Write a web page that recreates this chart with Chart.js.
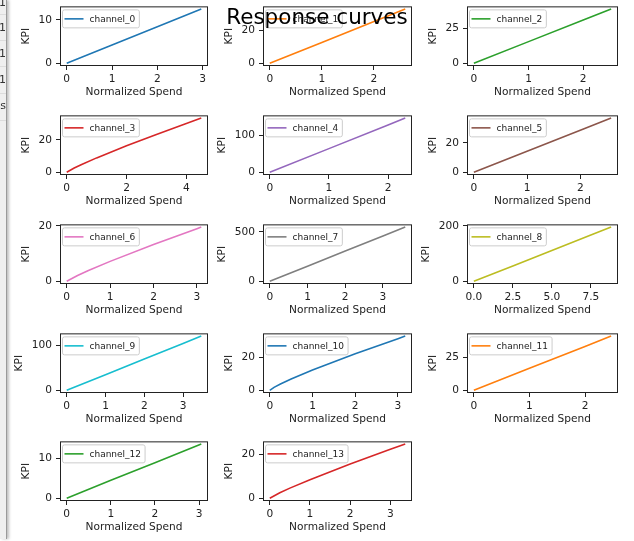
<!DOCTYPE html>
<html>
<head>
<meta charset="utf-8">
<script src="https://cdn.jsdelivr.net/npm/chart.js@4.4.0/dist/chart.umd.min.js"></script>
<style>
  body { margin: 0; background: #fff; width: 634px; height: 541px; overflow: hidden; position: relative; font-family: 'DejaVu Sans', sans-serif; }
  canvas { position: absolute; }
  #title { position: absolute; left: 0; width: 634px; top: 6px; text-align: center; font-size: 21.5px; line-height: 21.5px; color: #000; z-index: 5; }
  #side { position: absolute; left: 0; top: 0; width: 6px; height: 539px; background: #efefef; border-right: 1px solid #9a9a9a; box-shadow: 2px 0 3px rgba(0,0,0,0.25); overflow: hidden; z-index: 4; }
  #side span { position: absolute; right: 0; font-size: 11px; line-height: 13px; color: #333; white-space: nowrap; }
  #side i { position: absolute; left: 0; width: 6px; height: 0; border-top: 1px solid #dcdcdc; }
</style>
</head>
<body>
<div id="side">
  <span style="top:-4px">0.01</span><i style="top:14px"></i>
  <span style="top:21px">0.01</span><i style="top:40px"></i>
  <span style="top:47px">0.01</span><i style="top:66px"></i>
  <span style="top:73px">0.01</span><i style="top:93px"></i>
  <span style="top:99px">s</span><i style="top:120px"></i>
</div>
<div id="title">Response curves</div>
<script>
const channels = ['channel_0', 'channel_1', 'channel_2', 'channel_3', 'channel_4', 'channel_5', 'channel_6',
  'channel_7', 'channel_8', 'channel_9', 'channel_10', 'channel_11', 'channel_12', 'channel_13'];
const colors = ['#1f77b4', '#ff7f0e', '#2ca02c', '#d62728', '#9467bd', '#8c564b', '#e377c2',
  '#7f7f7f', '#bcbd22', '#17becf', '#1f77b4', '#ff7f0e', '#2ca02c', '#d62728'];

// spend (x) and KPI (y)
const spend = [
  [0, 1, 2, 2.97],
  [0, 1, 2, 2.6],
  [0, 1, 2, 2.51],
  [0, 0.25, 0.5, 1, 2, 3, 4, 4.5],
  [0, 1, 2, 2.29],
  [0, 1, 2, 2.58],
  [0, 0.25, 0.5, 1, 2, 3, 3.1],
  [0, 1, 2, 3, 3.59],
  [0, 2.5, 5, 7.5, 8.8],
  [0, 1, 2, 3, 3.47],
  [0, 0.1, 0.25, 0.5, 1, 2, 3, 3.17],
  [0, 1, 2, 2.47],
  [0, 1, 2, 3.05],
  [0, 0.25, 0.5, 1, 2, 3, 3.37]
];
const kpi = [
  [0, 4.2, 8.4, 12.5],
  [0, 12.6, 25.2, 32.7],
  [0, 15.5, 30.9, 38.8],
  [0, 2.6, 4.8, 8.9, 16.4, 23.4, 30.2, 33.5],
  [0, 64.6, 129.3, 148],
  [0, 14.3, 28.7, 37],
  [0, 2.1, 3.9, 7.2, 13.3, 19.0, 19.6],
  [0, 152.6, 305.3, 458, 548],
  [0, 55.7, 111.4, 167, 196],
  [0, 34.6, 69.2, 103.8, 120],
  [0, 1.8, 3.8, 6.9, 12.4, 22.4, 31.6, 33.2],
  [0, 16.7, 33.4, 41.3],
  [0, 4.5, 8.9, 13.6],
  [0, 2.5, 4.6, 8.4, 15.5, 22.2, 24.5]
];
const xTicks = [
  [0, 1, 2, 3], [0, 1, 2], [0, 1, 2], [0, 2, 4], [0, 1, 2], [0, 1, 2], [0, 1, 2, 3],
  [0, 1, 2, 3], [0, 2.5, 5, 7.5], [0, 1, 2, 3], [0, 1, 2, 3], [0, 1, 2], [0, 1, 2, 3], [0, 1, 2, 3]
];
const yTicks = [
  [0, 10], [0, 20], [0, 25], [0, 20], [0, 100], [0, 20], [0, 20],
  [0, 500], [0, 200], [0, 100], [0, 20], [0, 25], [0, 10], [0, 20]
];

// grid of axes boxes, page pixels
const colLeft = [60, 263, 467];
const colRight = [208, 412, 618];
const rowTop = [6, 115, 224, 333, 441];
const AX_H = 60;
const Y_W = 50, PAD_T = 10, PAD_R = 6, X_H = 33;
const FONT = 'DejaVu Sans';
const FS = 10.6;
const INK = '#222';

const measure = document.createElement('canvas').getContext('2d');
measure.font = FS + 'px "DejaVu Sans"';

const boxPlugin = {
  id: 'box',
  afterDatasetsDraw(chart) {
    const { ctx, chartArea: a } = chart;
    ctx.save();
    ctx.strokeStyle = INK;
    ctx.lineWidth = 1;
    ctx.strokeRect(a.left + 0.5, a.top + 0.5, a.right - a.left - 1, a.bottom - a.top - 1);

    // legend, upper left
    const ds = chart.data.datasets[0];
    ctx.font = '9px "DejaVu Sans"';
    const tw = ctx.measureText(ds.label).width;
    const x0 = a.left + 2.5, y0 = a.top + 3.5, h = 18, w = 2 + 19 + 6 + tw + 4;
    ctx.beginPath();
    ctx.roundRect(x0, y0, w, h, 2);
    ctx.fillStyle = 'rgba(255,255,255,0.8)';
    ctx.fill();
    ctx.strokeStyle = '#cccccc';
    ctx.stroke();
    ctx.strokeStyle = ds.borderColor;
    ctx.lineWidth = 1.6;
    ctx.beginPath();
    ctx.moveTo(x0 + 2, y0 + h / 2);
    ctx.lineTo(x0 + 21, y0 + h / 2);
    ctx.stroke();
    ctx.fillStyle = INK;
    ctx.textBaseline = 'middle';
    ctx.fillText(ds.label, x0 + 27, y0 + h / 2 + 0.5);
    ctx.restore();
  }
};

channels.forEach((name, i) => {
  const row = Math.floor(i / 3), col = i % 3;
  const axW = colRight[col] - colLeft[col];
  const cv = document.createElement('canvas');
  cv.width = Y_W + axW + PAD_R;
  cv.height = PAD_T + AX_H + X_H;
  cv.style.left = (colLeft[col] - Y_W) + 'px';
  cv.style.top = (rowTop[row] - PAD_T) + 'px';
  document.body.appendChild(cv);

  const xMax = Math.max(...spend[i]);
  const yMax = Math.max(...kpi[i]);
  const dec = xTicks[i].some(v => v % 1 !== 0) ? 1 : 0;
  const labelW = Math.max(...yTicks[i].map(v => measure.measureText(String(v)).width));

  new Chart(cv, {
    type: 'scatter',
    data: {
      datasets: [{
        label: name,
        data: spend[i].map((x, k) => ({ x: x, y: kpi[i][k] })),
        showLine: true,
        borderColor: colors[i],
        backgroundColor: colors[i],
        borderWidth: 1.6,
        pointRadius: 0,
        tension: 0
      }]
    },
    options: {
      responsive: false,
      animation: false,
      devicePixelRatio: 1,
      events: [],
      layout: { padding: { top: PAD_T, right: PAD_R, left: 0, bottom: 0 } },
      plugins: { legend: { display: false }, tooltip: { enabled: false } },
      scales: {
        x: {
          type: 'linear',
          min: -0.05 * xMax,
          max: 1.05 * xMax,
          afterBuildTicks: s => { s.ticks = xTicks[i].map(v => ({ value: v })); },
          afterFit: s => { s.height = X_H; },
          ticks: {
            font: { family: FONT, size: FS }, color: INK, padding: 3,
            maxRotation: 0, autoSkip: false,
            callback: v => Number(v).toFixed(dec)
          },
          grid: { drawOnChartArea: false, drawTicks: true, tickLength: 4, color: INK, lineWidth: 1 },
          border: { display: false },
          title: { display: true, text: 'Normalized Spend', color: INK, font: { family: FONT, size: FS }, padding: { top: 0, bottom: 0 } }
        },
        y: {
          type: 'linear',
          min: -0.05 * yMax,
          max: 1.05 * yMax,
          afterBuildTicks: s => { s.ticks = yTicks[i].map(v => ({ value: v })); },
          afterFit: s => { s.width = Y_W; },
          ticks: { font: { family: FONT, size: FS }, color: INK, padding: 4, autoSkip: false },
          grid: { drawOnChartArea: false, drawTicks: true, tickLength: 4, color: INK, lineWidth: 1 },
          border: { display: false },
          title: { display: true, text: 'KPI', color: INK, font: { family: FONT, size: FS }, padding: { top: Math.max(0, 23.3 - labelW), bottom: 0 } }
        }
      }
    },
    plugins: [boxPlugin]
  });
});
</script>
</body>
</html>
